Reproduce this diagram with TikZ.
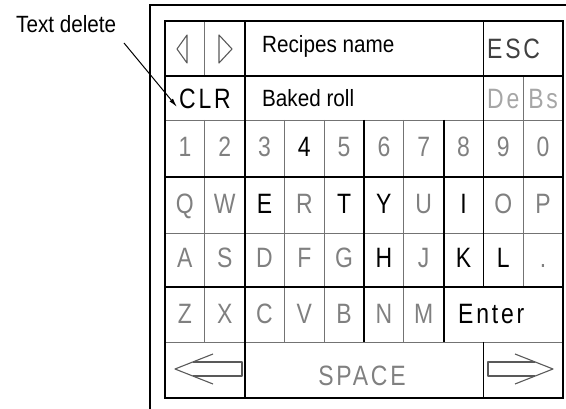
\documentclass[tikz,border=0pt]{standalone}
\usepackage{fontspec}
\setmainfont{Liberation Sans}
\newfontfamily\labelfont{Liberation Sans}[FakeStretch=0.88]
\newfontfamily\keyfont{Liberation Sans}[FakeStretch=0.82,LetterSpace=10]
\usetikzlibrary{arrows.meta}

\begin{document}
\begin{tikzpicture}[
x=1pt,y=-1pt,
thickline/.style={line width=1.8pt,black},
thinline/.style={line width=0.9pt,black!55},
iconline/.style={line width=1.1pt,black!65,line join=round},
lbl/.style={font=\labelfont\fontsize{23.5}{26}\selectfont,inner sep=0pt,anchor=base west},
keyg/.style={font=\keyfont\fontsize{28}{30}\selectfont,text=black!50,inner sep=0pt,anchor=base},
keyb/.style={keyg,text=black}
]
\useasboundingbox (0,0) rectangle (566,409);

% frame of the screen
\draw[line width=2pt] (150,409) -- (150,5) -- (566,5);

% thin grid lines
\draw[thinline] (165,120) -- (563,120);
\draw[thinline] (165,233) -- (563,233);
\draw[thinline] (165,342) -- (563,342);
\draw[thinline] (204.8,21) -- (204.8,76);
\draw[thinline] (204.8,120) -- (204.8,342);
\draw[thinline] (284.4,120) -- (284.4,342);
\draw[thinline] (324.2,120) -- (324.2,342);
\draw[thinline] (403.8,120) -- (403.8,342);
\draw[thinline] (523.2,76) -- (523.2,287);

% thick grid lines
\draw[thickline] (165,76) -- (563,76);
\draw[thickline] (165,177) -- (563,177);
\draw[thickline] (165,287) -- (563,287);
\draw[thickline] (244.6,21) -- (244.6,398);
\draw[thickline] (364,120) -- (364,342);
\draw[thickline] (443.6,120) -- (443.6,342);
\draw[thickline] (483.4,21) -- (483.4,287);
\draw[thickline] (483.4,342) -- (483.4,398);
\draw[thickline] (165,21) rectangle (563,398);

% top rows
\draw[iconline] (187,35) -- (177,49) -- (187,63) -- cycle;
\draw[iconline] (219,35) -- (232,49) -- (219,63) -- cycle;
\node[lbl] (recipes) at (262,53) {Recipes name};
\node[keyg,anchor=base west,text=black!75] (esc) at (487,59) {ESC};
\node[keyb] (clr) at (205,109) {CLR};
\node[lbl] (baked) at (262,107) {Baked roll};
\node[keyg,text=black!35] (del) at (503.3,109) {De};
\node[keyg,text=black!35] (bs) at (543.1,109) {Bs};

% key rows
\foreach \t/\s [count=\i from 0] in {1/keyg,2/keyg,3/keyg,4/keyb,5/keyg,6/keyg,7/keyg,8/keyg,9/keyg,0/keyg}
  \node[\s] (d\i) at ({184.9+39.8*\i},157) {\t};
\foreach \t/\s [count=\i from 0] in {Q/keyg,W/keyg,E/keyb,R/keyg,T/keyb,Y/keyb,U/keyg,I/keyb,O/keyg,P/keyg}
  \node[\s] (q\i) at ({184.9+39.8*\i},214) {\t};
\foreach \t/\s [count=\i from 0] in {A/keyg,S/keyg,D/keyg,F/keyg,G/keyg,H/keyb,J/keyg,K/keyb,L/keyb,./keyg}
  \node[\s] (a\i) at ({184.9+39.8*\i},268) {\t};
\foreach \t/\s [count=\i from 0] in {Z/keyg,X/keyg,C/keyg,V/keyg,B/keyg,N/keyg,M/keyg}
  \node[\s] (z\i) at ({184.9+39.8*\i},324) {\t};
\node[keyb,anchor=base west] (enter) at (458,324) {Enter};

% bottom row
\draw[iconline] (213,354) -- (175,369) -- (213,384);
\draw[iconline] (193,362) -- (242,362) -- (242,376) -- (193,376);
\node[keyg] (space) at (362,386) {SPACE};
\draw[iconline] (515,354) -- (553,369) -- (515,384);
\draw[iconline] (535,362) -- (488,362) -- (488,376) -- (535,376);

% callout
\node[lbl] (textdel) at (16,33) {Text delete};
\coordinate (tdfrom) at (124,43);
\coordinate (tdto) at (177,107);
\draw[line width=1pt,-{Latex[length=9pt,width=4.5pt]}] (tdfrom) -- (tdto);

\end{tikzpicture}
\end{document}
